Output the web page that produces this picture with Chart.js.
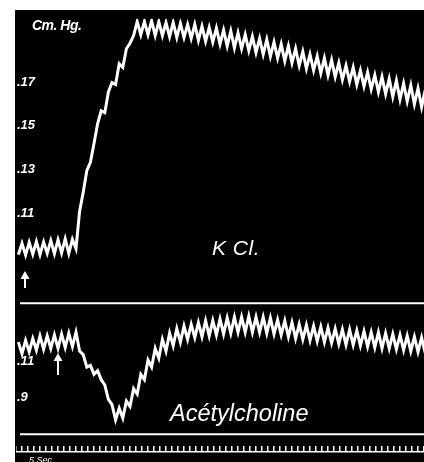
<!DOCTYPE html>
<html>
<head>
<meta charset="utf-8">
<script src="https://cdn.jsdelivr.net/npm/chart.js@4/dist/chart.umd.min.js"></script>
<style>
  html, body { margin: 0; padding: 0; background: #fff; }
  body { width: 424px; height: 462px; position: relative; overflow: hidden; }
  #plate { position: absolute; left: 15px; top: 10px; width: 409px; height: 452px; background: #000; }
  canvas { position: absolute; left: 16px; }
  .lbl { position: absolute; color: #fff; font-family: "Liberation Sans", Arial, sans-serif;
         font-style: italic; line-height: 1; white-space: nowrap; }
</style>
</head>
<body>
<div id="plate"></div>
<canvas id="kcl" width="408" height="284" style="top:10px"></canvas>
<canvas id="ach" width="408" height="149" style="top:294px"></canvas>
<canvas id="clock" width="408" height="19" style="top:443px"></canvas>
<div class="lbl" style="left:32px;top:18px;font-size:14px;font-weight:bold;letter-spacing:-0.5px">Cm. Hg.</div>
<div class="lbl" style="left:212px;top:237px;font-size:21px;letter-spacing:0.5px">K Cl.</div>
<div class="lbl" style="left:170px;top:402px;font-size:23.5px;">Acétylcholine</div>
<div class="lbl" style="left:29px;top:456px;font-size:9px;">5 Sec.</div>
<script>
// Kymograph record: arterial pressure (cm Hg), read at every crest and trough of the pulse wave.
const SAMPLE_START = 2;   // s, first reading on the drum
const SAMPLE_STEP = 3;    // s between successive crest / trough readings
const TIME_MAX = 340;     // s shown across the drum
const CLOCK_STEP = 5;     // s between time-signal marks

// Upper record: injection of KCl
const kclPressure = [
  9.10, 9.62, 9.08, 9.66, 9.12, 9.70, 9.10, 9.68, 9.16, 9.74, 9.14, 9.78, 9.18, 9.82, 9.16, 9.80,
  9.38, 11.09, 11.95, 12.94, 13.33, 14.19, 15.09, 15.69, 15.60, 16.55, 16.98, 16.89, 17.84, 17.67,
  18.53, 18.78, 19.13, 19.77,
  19.17, 19.77, 19.17, 19.81, 19.13, 19.77, 19.13, 19.73, 19.08, 19.73, 19.04, 19.69, 19.04, 19.64,
  19.00, 19.64, 18.91, 19.56, 18.87, 19.51, 18.83, 19.47, 18.74, 19.38, 18.65, 19.34, 18.57, 19.26,
  18.53, 19.17, 18.44, 19.08, 18.35, 19.00, 18.27, 18.95, 18.18, 18.83, 18.10, 18.74, 17.97, 18.65,
  17.88, 18.53, 17.75, 18.40, 17.62, 18.27, 17.54, 18.18, 17.41, 18.10, 17.32, 18.01, 17.24, 17.88,
  17.11, 17.75, 17.02, 17.67, 16.89, 17.54, 16.81, 17.45, 16.68, 17.32, 16.55, 17.24, 16.46, 17.15,
  16.33, 17.07, 16.21, 16.94, 16.12, 16.85, 15.99, 16.72, 15.86, 16.64
];

// Lower record: injection of acetylcholine
const achPressure = [
  12.10, 11.45, 12.20, 11.55, 12.30, 11.65, 12.45, 11.70, 12.45, 11.75, 12.50, 11.75, 12.55, 11.80,
  12.60, 11.85, 12.65,
  11.60, 11.40, 10.70, 10.80, 10.30, 10.50, 10.00, 9.70, 8.90, 8.60, 7.75, 8.40, 7.85, 8.80, 8.50,
  9.50, 9.20, 10.30, 10.00, 11.10, 10.70, 11.75, 11.20, 12.25, 11.60, 12.60, 11.90, 12.85, 12.10,
  13.00, 12.25, 13.10, 12.35, 13.20, 12.40, 13.30, 12.45, 13.30, 12.50, 13.40, 12.55, 13.45, 12.60,
  13.50, 12.65, 13.50, 12.65, 13.55, 12.65, 13.50, 12.65, 13.50, 12.60, 13.45, 12.55, 13.35, 12.50,
  13.30, 12.40, 13.20, 12.30, 13.10, 12.25, 13.05, 12.20, 13.00, 12.15, 12.95, 12.10, 12.90, 12.05,
  12.85, 12.00, 12.80, 11.95, 12.80, 11.95, 12.75, 11.90, 12.70, 11.85, 12.65, 11.80, 12.65, 11.75,
  12.60, 11.75, 12.55, 11.70, 12.50, 11.65, 12.45, 11.60, 12.40, 11.55, 12.35, 11.50
];

const kclTicks = [11, 13, 15, 17];
const achTicks = [9, 11];
const kclInjection = 7.5;   // s, arrow on upper record
const achInjection = 35;    // s, arrow on lower record

const WHITE = '#ffffff';
const tickFont = { family: 'Liberation Sans', style: 'italic', weight: 'bold', size: 13 };

function points(values) {
  return values.map((v, i) => ({ x: SAMPLE_START + i * SAMPLE_STEP, y: v }));
}

// Injection arrow drawn at a time value through the x scale
function arrowPlugin(time, y1, y2) {
  return {
    id: 'injectionArrow',
    afterDatasetsDraw(chart) {
      const ctx = chart.ctx;
      const x = chart.scales.x.getPixelForValue(time);
      ctx.save();
      ctx.strokeStyle = WHITE;
      ctx.fillStyle = WHITE;
      ctx.lineWidth = 2;
      ctx.beginPath();
      ctx.moveTo(x, y1 + 5);
      ctx.lineTo(x, y2);
      ctx.stroke();
      ctx.beginPath();
      ctx.moveTo(x, y1);
      ctx.lineTo(x - 4.5, y1 + 8);
      ctx.lineTo(x + 4.5, y1 + 8);
      ctx.closePath();
      ctx.fill();
      ctx.restore();
    }
  };
}

// Baselines of the lower record (upper edge and lower edge of its strip)
const baselinePlugin = {
  id: 'baselines',
  afterDraw(chart) {
    const { ctx, chartArea } = chart;
    ctx.save();
    ctx.strokeStyle = WHITE;
    ctx.lineWidth = 2;
    ctx.beginPath();
    ctx.moveTo(chartArea.left + 4, chartArea.top + 0.5);
    ctx.lineTo(chartArea.right, chartArea.top + 0.5);
    ctx.moveTo(chartArea.left + 4, chartArea.bottom);
    ctx.lineTo(chartArea.right, chartArea.bottom);
    ctx.stroke();
    ctx.restore();
  }
};

function traceChart(id, values, yMin, yMax, ticks, plugins, padBottom) {
  return new Chart(document.getElementById(id), {
    type: 'line',
    data: {
      datasets: [{
        data: points(values),
        borderColor: WHITE,
        borderWidth: 3,
        borderJoinStyle: 'miter',
        pointRadius: 0,
        tension: 0
      }]
    },
    options: {
      responsive: false,
      animation: false,
      devicePixelRatio: 1,
      events: [],
      layout: { padding: { left: 0, right: 0, top: 0, bottom: padBottom } },
      plugins: { legend: { display: false }, tooltip: { enabled: false } },
      scales: {
        x: { type: 'linear', min: 0, max: TIME_MAX, display: false },
        y: {
          type: 'linear', min: yMin, max: yMax,
          afterFit: s => { s.width = 0; },
          afterBuildTicks: s => { s.ticks = ticks.map(v => ({ value: v })); },
          grid: { display: false },
          border: { display: false },
          ticks: { mirror: true, padding: 1, color: WHITE, font: tickFont, callback: v => '.' + v }
        }
      }
    },
    plugins
  });
}

traceChart('kcl', kclPressure, 7.7, 19.9, kclTicks, [arrowPlugin(kclInjection, 261, 278)], 0);
traceChart('ach', achPressure, 6.95, 14.3, achTicks, [arrowPlugin(achInjection, 59, 81), baselinePlugin], 2);

// Time signal
new Chart(document.getElementById('clock'), {
  type: 'line',
  data: { datasets: [{ data: [] }] },
  options: {
    responsive: false,
    animation: false,
    devicePixelRatio: 1,
    events: [],
    layout: { padding: { left: 0, right: 0, top: 3, bottom: 10 } },
    plugins: { legend: { display: false }, tooltip: { enabled: false } },
    scales: {
      x: {
        type: 'linear', min: 0, max: TIME_MAX,
        ticks: { display: false, stepSize: CLOCK_STEP },
        grid: { color: WHITE, lineWidth: 1.5, drawTicks: false },
        border: { color: WHITE, width: 1.5 }
      },
      y: { display: false }
    }
  }
});
</script>
</body>
</html>
